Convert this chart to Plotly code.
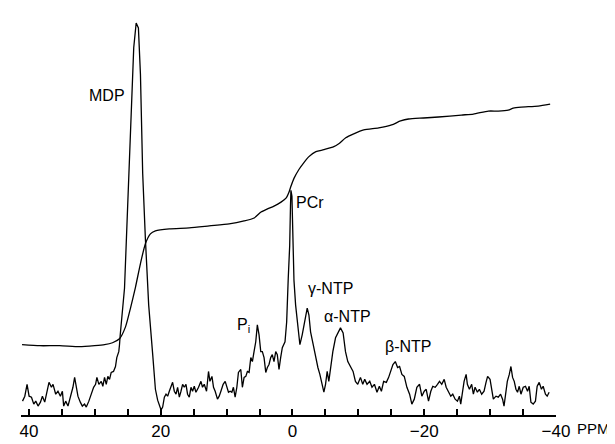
import plotly.graph_objects as go

# 31P spectrum trace (chemical shift in ppm, intensity in arbitrary units)
spec_ppm = [
    40.97, 40.62, 40.28, 39.97, 39.61, 39.26, 38.96, 38.61, 38.25, 37.95, 37.60, 37.25, 36.95, 36.58,
    36.34, 35.93, 35.59, 35.22, 34.92, 34.72, 34.42, 34.07, 33.71, 33.32, 33.06, 32.80, 32.56, 32.20,
    31.89, 31.55, 31.29, 30.90, 30.53, 30.18, 29.88, 29.68, 29.38, 29.02, 28.78, 28.52, 28.26, 28.02,
    27.76, 27.51, 27.16, 26.86, 26.66, 26.36, 26.25, 26.14,
    25.49, 24.99, 24.48, 24.09, 23.72, 23.38, 23.07, 22.73, 22.32, 21.82, 21.21, 20.80, 20.46, 19.94,
    19.70, 19.44, 19.19, 18.94, 18.69, 18.43, 18.19, 17.93, 17.67, 17.43, 17.17, 16.92, 16.67, 16.42,
    16.16, 15.92, 15.66, 15.40, 15.16, 14.90, 14.65, 14.25, 13.89, 13.65, 13.39, 13.04, 12.74, 12.53,
    12.22, 11.98, 11.73, 11.38, 11.12, 10.86, 10.52, 10.21, 9.96, 9.71, 9.46, 9.20, 8.96, 8.70, 8.44,
    8.20, 7.84, 7.60, 7.34, 7.08, 6.84, 6.58, 6.32, 6.08, 5.83, 5.57, 5.33, 5.07, 4.81, 4.57, 4.31,
    4.05, 3.81, 3.56, 3.30, 3.06, 2.80, 2.54, 2.30, 2.04, 1.79, 1.54, 1.13, 0.88, 0.64, 0.42, 0.30,
    0.23, 0.08, -0.08, -0.23,
    -0.48, -0.83, -1.13, -1.48, -1.85, -2.24, -2.50, -2.75, -3.15, -3.51, -3.86, -4.16, -4.51, -4.77,
    -5.02, -5.27, -5.52, -5.78, -6.13, -6.54, -6.93, -7.29, -7.69, -8.05, -8.40, -8.81, -9.20, -9.56,
    -9.91, -10.32, -10.67, -10.97, -11.32, -11.73, -12.07, -12.44, -12.83, -13.19, -13.50, -13.84,
    -14.25, -14.60, -14.95, -15.25, -15.61, -15.96, -16.26, -16.61, -16.97, -17.37, -17.78, -18.12,
    -18.49, -18.88, -19.29, -19.64, -20.00, -20.30, -20.65, -21.00, -21.30, -21.67, -22.01, -22.32,
    -22.66, -23.03, -23.33, -23.68, -24.03, -24.33, -24.69, -25.04, -25.34, -25.54, -25.84, -26.05,
    -26.36, -26.55, -26.86, -27.20, -27.46, -27.72, -28.07, -28.37, -28.72, -29.08, -29.38, -29.62,
    -29.99, -30.23, -30.49, -30.89, -31.24, -31.59, -31.89, -32.11, -32.35, -32.61, -32.91, -33.16,
    -33.41, -33.66, -33.92, -34.16, -34.42, -34.68, -35.03, -35.37, -35.68, -35.93, -36.19, -36.54,
    -36.88, -37.14, -37.45, -37.79, -38.05, -38.40, -38.66, -38.96,
]
spec_int = [
    14, 19, 31, 19, 18, 11, 14, 9, 13, 19, 13, 26, 33, 28,
    31, 21, 24, 19, 24, 9, 14, 9, 18, 28, 38, 26, 19, 13,
    9, 11, 8, 14, 21, 28, 31, 38, 31, 34, 29, 38, 31, 39,
    36, 43, 44, 49, 58, 64, 71, 81,
    128, 211, 311, 371, 396, 391, 344, 244, 178, 111, 61, 26, 15, 5,
    8, 18, 21, 19, 24, 28, 33, 24, 21, 28, 18, 24, 31, 28,
    31, 21, 18, 28, 24, 29, 23, 28, 34, 28, 31, 24, 44, 34,
    39, 28, 24, 16, 19, 24, 31, 34, 28, 23, 24, 23, 28, 18, 28,
    43, 46, 28, 38, 39, 44, 43, 58, 54, 64, 74, 91, 81, 64, 64, 58,
    43, 48, 51, 58, 61, 54, 64, 61, 46, 58, 68, 74, 94, 138, 171, 211,
    227, 221, 171, 136,
    111, 88, 71, 81, 94, 108, 101, 84, 71, 58, 48, 41, 31, 23,
    31, 44, 34, 48, 64, 78, 84, 88, 83, 64, 54, 48, 44, 34,
    31, 38, 31, 36, 31, 34, 28, 31, 23, 29, 24, 34,
    33, 38, 44, 51, 54, 48, 49, 41, 39, 28, 21, 11,
    16, 28, 31, 19, 24, 26, 14, 24, 29, 28, 31, 34,
    31, 36, 28, 24, 19, 21, 16, 14, 19, 11, 24, 34,
    41, 31, 26, 31, 21, 28, 23, 26, 21, 24, 33, 39,
    36, 28, 16, 19, 18, 21, 16, 9, 24, 34, 41, 49,
    38, 34, 26, 23, 29, 21, 28, 29, 24, 29, 13, 11,
    14, 29, 33, 26, 29, 21, 19, 23,
]

# Integral trace
integ_ppm = [
    41.04, 38.35, 35.33, 32.30, 30.03, 28.52, 27.31, 26.25, 25.34, 24.58, 23.83, 23.07, 22.32, 21.56,
    20.80, 18.69, 15.66, 12.63, 9.61, 7.34, 5.82, 4.77, 3.86, 2.80, 1.74, 0.98, 0.53, 0.23, -0.23,
    -0.98, -1.74, -2.50, -3.56, -4.76, -6.28, -7.03, -8.09, -9.30, -10.82, -13.09, -15.05, -16.41,
    -17.62, -19.89, -22.16, -25.64, -27.46, -29.73, -31.24, -32.76, -33.51, -34.72, -37.29, -39.11,
]
integ_val = [
    71, 70, 70, 69, 70, 71, 73, 77, 89, 108, 129, 153, 173, 183,
    186, 188, 189, 191, 193, 196, 199, 205, 208, 211, 215, 219, 225, 231, 239,
    248, 255, 261, 266, 268, 271, 274, 280, 284, 288, 290, 293, 297,
    299, 300, 301, 303, 304, 307, 307, 308, 310, 311, 312, 314,
]

major_ticks = [40, 20, 0, -20, -40]
major_text = ["40", "20", "0", "\u221220", "\u221240"]
minor_ticks = [35, 30, 25, 15, 10, 5, -5, -10, -15, -25, -30, -35]

peak_labels = ["MDP", "PCr", "P<sub>i</sub>", "\u03b3-NTP", "\u03b1-NTP", "\u03b2-NTP"]
label_ppm = [28.2, -2.65, 7.5, -5.7, -8.4, -17.6]
label_int = [323, 215, 90, 128, 99, 69]

FONT = "Liberation Sans, Arial, Helvetica, sans-serif"

fig = go.Figure()
fig.add_trace(go.Scatter(x=spec_ppm, y=spec_int, mode="lines",
                         line=dict(color="black", width=1.3), hoverinfo="skip"))
fig.add_trace(go.Scatter(x=integ_ppm, y=integ_val, mode="lines",
                         line=dict(color="black", width=1.3, shape="spline", smoothing=0.6),
                         hoverinfo="skip"))

for t, xp, yp in zip(peak_labels, label_ppm, label_int):
    fig.add_annotation(x=xp, y=yp, text=t, showarrow=False,
                       font=dict(family=FONT, size=16, color="black"))

fig.add_annotation(xref="paper", yref="paper", x=1.0708, y=-0.06, xanchor="center",
                   text="PPM", showarrow=False,
                   font=dict(family=FONT, size=15, color="black"))

fig.update_layout(
    width=615, height=444,
    margin=dict(l=11, r=67, t=11, b=33),
    paper_bgcolor="white", plot_bgcolor="white",
    showlegend=False,
    font=dict(family=FONT, color="black"),
    xaxis=dict(range=[41.2, -40], tickmode="array", tickvals=major_ticks, ticktext=major_text,
               ticks="inside", ticklen=6, tickwidth=1.5, tickcolor="black",
               minor=dict(tickmode="array", tickvals=minor_ticks, ticks="inside",
                          ticklen=6, tickwidth=1.5, tickcolor="black", showgrid=False),
               showline=True, linecolor="black", linewidth=1.5,
               showgrid=False, zeroline=False,
               tickfont=dict(family=FONT, size=17, color="black")),
    yaxis=dict(range=[0, 400], visible=False, showgrid=False, zeroline=False),
)

fig.write_html("out.html")
